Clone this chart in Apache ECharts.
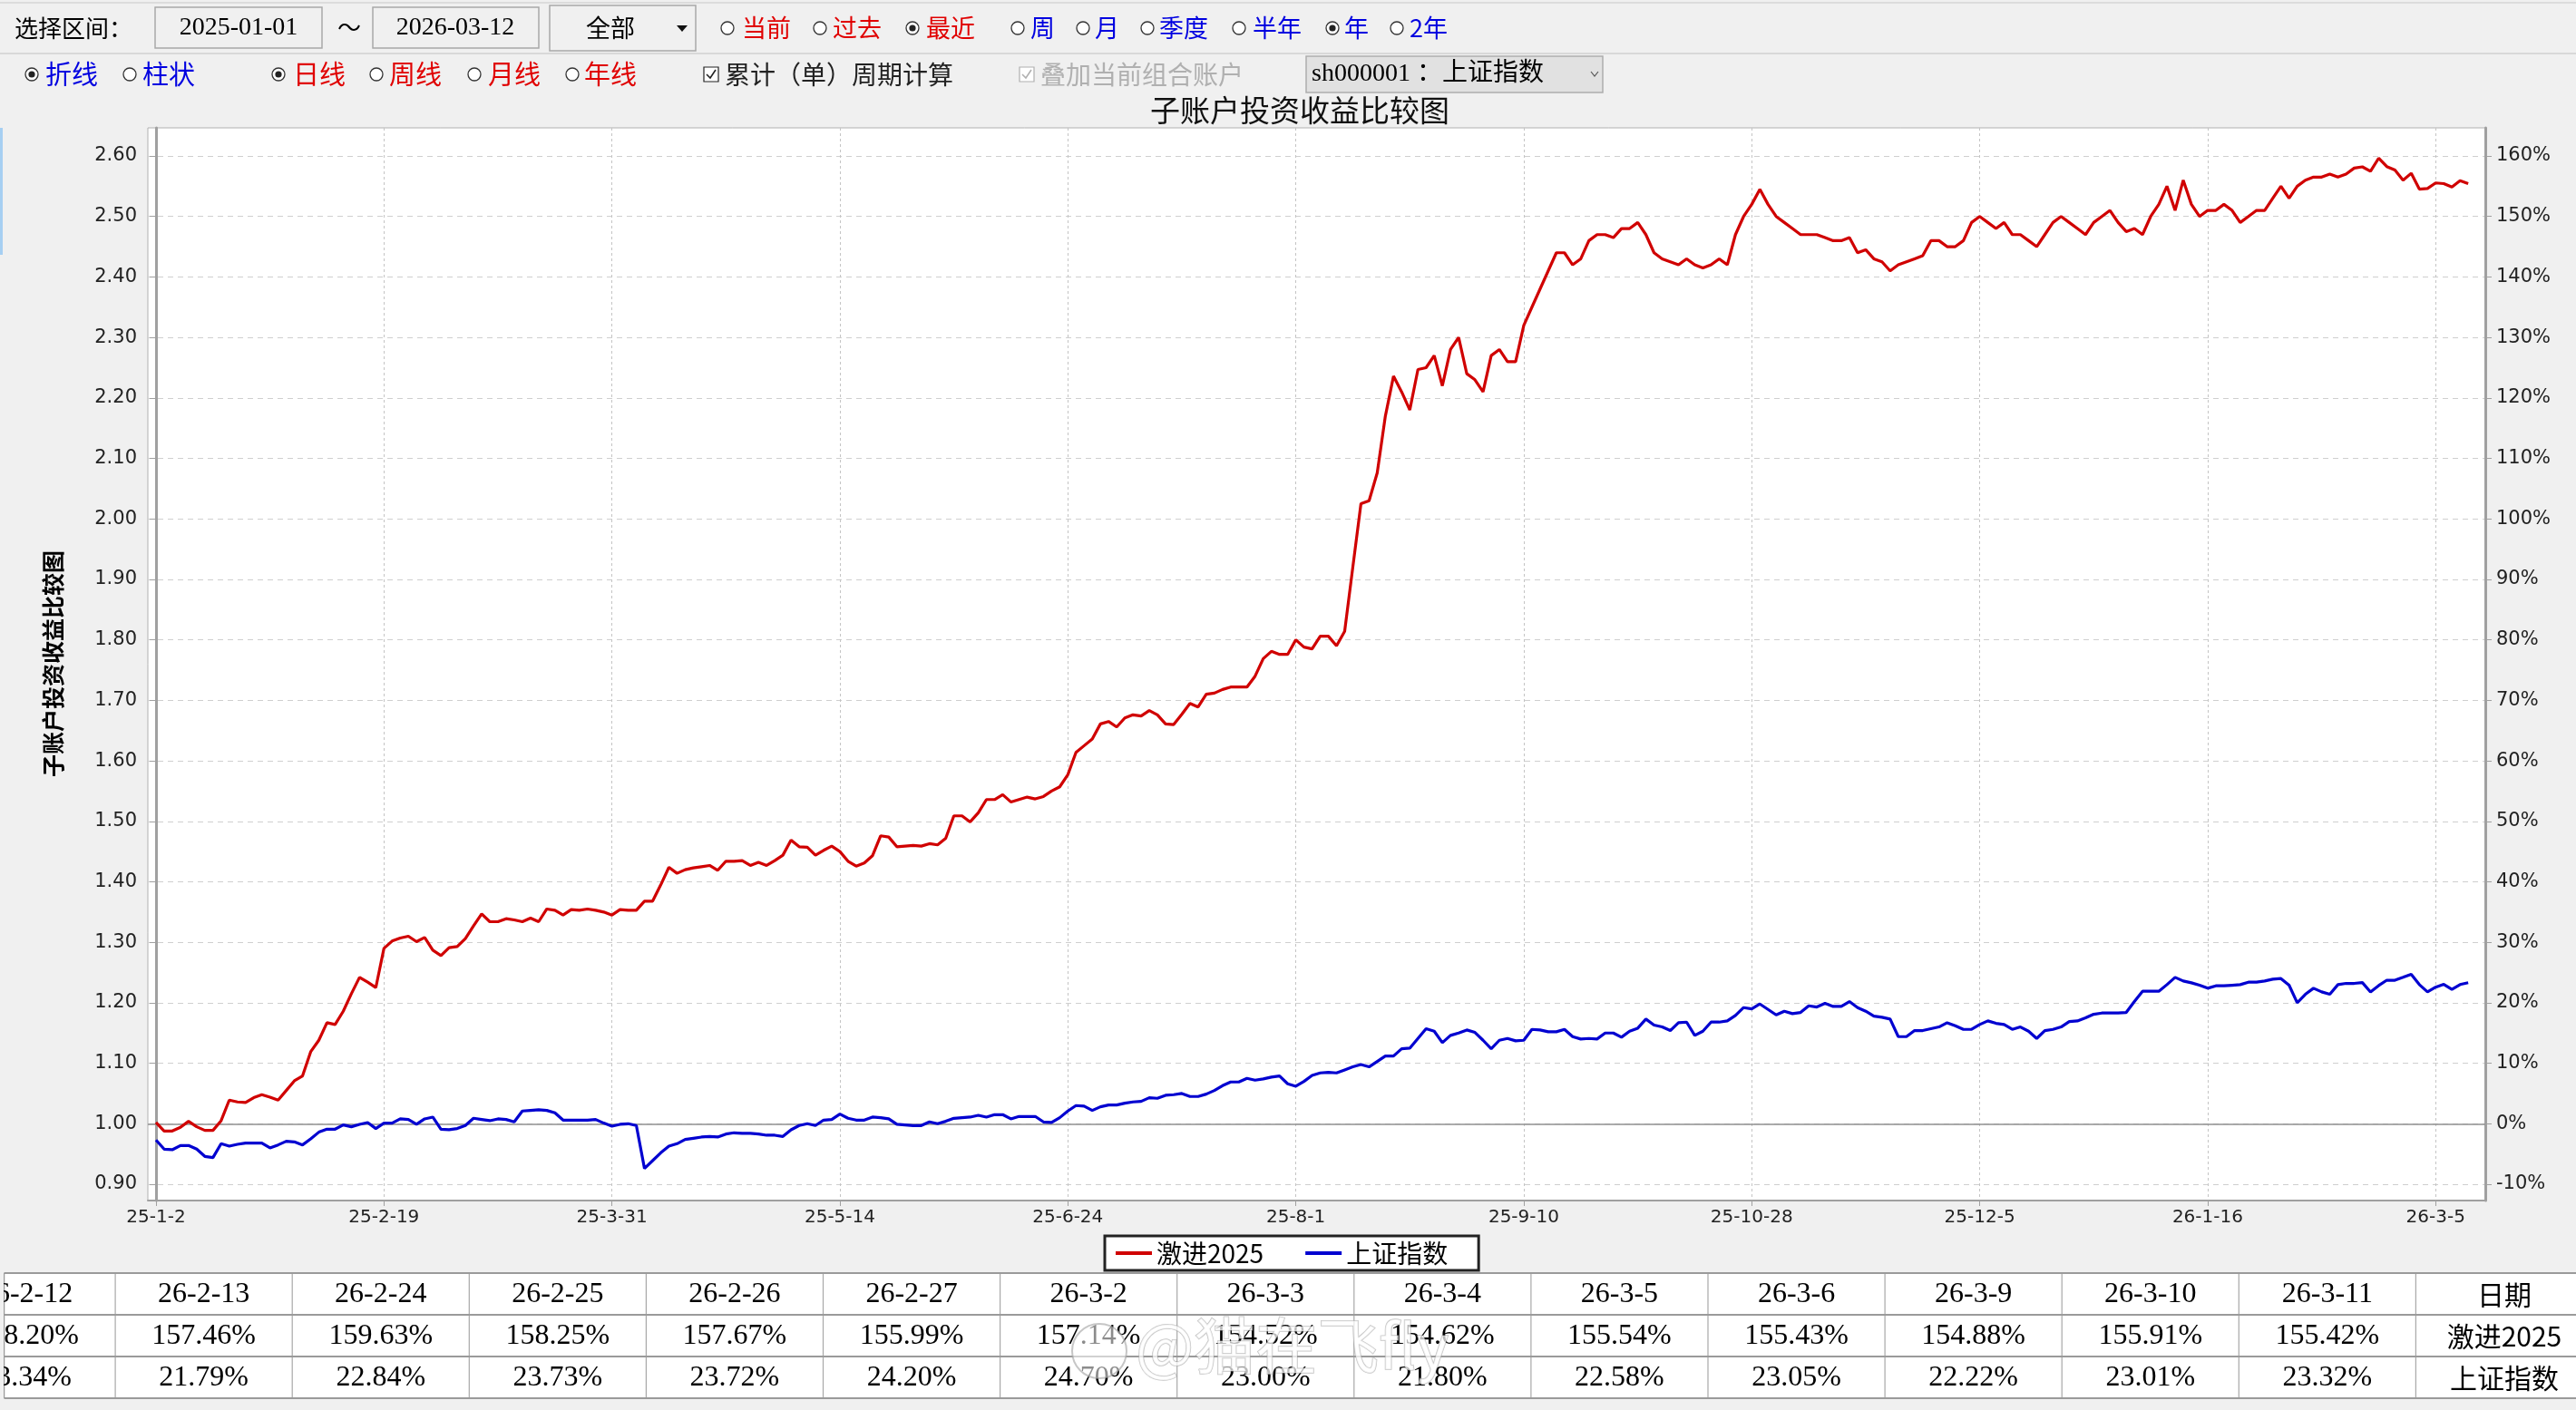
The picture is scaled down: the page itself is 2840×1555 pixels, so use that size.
<!DOCTYPE html>
<html><head><meta charset="utf-8">
<script src="https://cdn.jsdelivr.net/npm/echarts@6/dist/echarts.min.js"></script>
<style>html,body{margin:0;padding:0;background:#f0f0f0;}#c{width:2840px;height:1555px;}</style>
</head><body><div id="c"></div>
<script>
// ---------------- data ----------------
const tickLabels = ['25-1-2','25-2-19','25-3-31','25-5-14','25-6-24','25-8-1','25-9-10','25-10-28','25-12-5','26-1-16','26-3-5'];
const tickStep = 28; // trading days between labelled ticks
const seriesNames = ['激进2025','上证指数'];
const aggressive = [
1.002,0.988,0.988,0.994,1.004,0.995,0.989,0.989,1.005,1.039,
1.036,1.035,1.043,1.048,1.044,1.039,1.055,1.071,1.079,1.119,
1.138,1.167,1.164,1.186,1.215,1.242,1.234,1.225,1.290,1.302,
1.307,1.310,1.301,1.308,1.287,1.278,1.291,1.293,1.306,1.327,
1.347,1.334,1.334,1.339,1.337,1.334,1.340,1.334,1.355,1.353,
1.345,1.354,1.353,1.355,1.353,1.350,1.345,1.354,1.353,1.353,
1.368,1.368,1.395,1.424,1.414,1.420,1.423,1.425,1.427,1.419,
1.434,1.434,1.435,1.427,1.432,1.427,1.435,1.444,1.469,1.458,
1.457,1.444,1.452,1.459,1.450,1.434,1.426,1.431,1.443,1.476,
1.474,1.458,1.459,1.460,1.459,1.463,1.461,1.472,1.509,1.509,
1.499,1.514,1.536,1.536,1.544,1.532,1.536,1.540,1.537,1.541,
1.550,1.557,1.577,1.614,1.625,1.636,1.661,1.665,1.656,1.671,
1.676,1.674,1.683,1.676,1.661,1.660,1.677,1.695,1.689,1.710,
1.712,1.718,1.722,1.722,1.722,1.740,1.769,1.781,1.776,1.776,
1.800,1.788,1.785,1.806,1.806,1.790,1.814,1.920,2.025,2.030,
2.076,2.170,2.236,2.210,2.180,2.247,2.250,2.270,2.220,2.280,
2.300,2.240,2.230,2.210,2.270,2.280,2.260,2.260,2.320,2.350,
2.380,2.410,2.440,2.440,2.420,2.430,2.460,2.470,2.470,2.465,
2.480,2.480,2.490,2.470,2.440,2.430,2.425,2.420,2.430,2.420,
2.415,2.420,2.430,2.420,2.470,2.500,2.520,2.545,2.520,2.500,
2.490,2.480,2.470,2.470,2.470,2.465,2.460,2.460,2.465,2.440,
2.445,2.430,2.425,2.410,2.420,2.425,2.430,2.435,2.460,2.460,
2.450,2.450,2.460,2.490,2.500,2.490,2.480,2.490,2.470,2.470,
2.460,2.450,2.470,2.490,2.500,2.490,2.480,2.470,2.490,2.500,
2.510,2.490,2.475,2.480,2.470,2.500,2.520,2.550,2.510,2.560,
2.520,2.500,2.510,2.510,2.520,2.510,2.490,2.500,2.510,2.510,
2.530,2.550,2.530,2.550,2.560,2.565,2.565,2.570,2.565,2.570,
2.580,2.5820,2.5746,2.5963,2.5825,2.5767,2.5599,2.5714,2.5452,2.5462,
2.5554,2.5543,2.5488,2.5591,2.5542
];
const shIndex = [
0.973,0.958,0.957,0.964,0.964,0.958,0.946,0.944,0.967,0.963,
0.966,0.968,0.968,0.968,0.960,0.965,0.971,0.970,0.965,0.975,
0.986,0.991,0.991,0.998,0.995,0.999,1.002,0.992,1.001,1.001,
1.008,1.007,0.999,1.008,1.011,0.991,0.990,0.992,0.997,1.009,
1.007,1.005,1.008,1.007,1.003,1.021,1.022,1.023,1.022,1.018,
1.006,1.006,1.006,1.006,1.007,1.001,0.996,0.999,1.000,0.997,
0.926,0.939,0.952,0.963,0.967,0.974,0.976,0.978,0.979,0.978,
0.983,0.985,0.984,0.984,0.983,0.981,0.981,0.979,0.990,0.997,
1.000,0.997,1.006,1.007,1.016,1.009,1.006,1.006,1.011,1.010,
1.008,0.999,0.998,0.997,0.997,1.003,1.000,1.004,1.009,1.010,
1.011,1.014,1.011,1.015,1.015,1.008,1.012,1.012,1.012,1.003,
1.002,1.010,1.021,1.030,1.029,1.022,1.028,1.031,1.031,1.034,
1.036,1.037,1.043,1.042,1.047,1.048,1.050,1.045,1.045,1.049,
1.055,1.063,1.069,1.069,1.075,1.072,1.074,1.077,1.079,1.066,
1.062,1.070,1.080,1.084,1.085,1.084,1.089,1.094,1.098,1.094,
1.103,1.112,1.112,1.124,1.125,1.141,1.157,1.153,1.134,1.146,
1.150,1.155,1.151,1.138,1.124,1.138,1.141,1.137,1.138,1.156,
1.155,1.152,1.152,1.156,1.144,1.140,1.141,1.140,1.150,1.150,
1.143,1.153,1.158,1.173,1.163,1.160,1.154,1.167,1.168,1.146,
1.153,1.168,1.168,1.170,1.179,1.192,1.190,1.198,1.189,1.180,
1.186,1.182,1.184,1.195,1.193,1.199,1.194,1.194,1.202,1.192,
1.186,1.178,1.176,1.173,1.144,1.144,1.154,1.154,1.157,1.160,
1.167,1.162,1.156,1.156,1.164,1.170,1.166,1.164,1.156,1.160,
1.153,1.141,1.154,1.156,1.160,1.169,1.170,1.175,1.181,1.183,
1.183,1.183,1.184,1.202,1.219,1.219,1.219,1.230,1.242,1.236,
1.233,1.229,1.224,1.228,1.228,1.229,1.230,1.234,1.234,1.236,
1.239,1.240,1.229,1.200,1.214,1.224,1.218,1.214,1.230,1.232,
1.232,1.2334,1.2179,1.2284,1.2373,1.2372,1.2420,1.2470,1.2300,1.2180,
1.2258,1.2305,1.2222,1.2301,1.2332
];
const yLeftTicks = [0.90,1.00,1.10,1.20,1.30,1.40,1.50,1.60,1.70,1.80,1.90,2.00,2.10,2.20,2.30,2.40,2.50,2.60];
const yRightTicks = [-10,0,10,20,30,40,50,60,70,80,90,100,110,120,130,140,150,160];
const tableDates = ['26-2-12','26-2-13','26-2-24','26-2-25','26-2-26','26-2-27','26-3-2','26-3-3','26-3-4','26-3-5','26-3-6','26-3-9','26-3-10','26-3-11'];
const tableAggressive = ['158.20%','157.46%','159.63%','158.25%','157.67%','155.99%','157.14%','154.52%','154.62%','155.54%','155.43%','154.88%','155.91%','155.42%'];
const tableIndex = ['23.34%','21.79%','22.84%','23.73%','23.72%','24.20%','24.70%','23.00%','21.80%','22.58%','23.05%','22.22%','23.01%','23.32%'];
const tableRowNames = ['日期','激进2025','上证指数'];

// ---------------- drawing ----------------
const CJK = '"Noto Sans CJK SC", sans-serif';
const SERIF = '"Liberation Serif", "Noto Sans CJK SC", serif';
const NUM = '"DejaVu Sans", sans-serif';
const RED = '#e00000', BLUE = '#0000e0';

const G = [];
function T(x, y, s, size, fill, fam, align, weight) {
  G.push({type:'text', x:x, y:y, silent:true, z:10,
    style:{text:s, fill:fill || '#000', fontSize:size, fontFamily:fam || CJK, fontWeight:weight || 'normal', align:align || 'left', verticalAlign:'middle'}});
}
function R(x, y, w, h, fill, stroke, lw, z) {
  G.push({type:'rect', silent:true, z:z||5, shape:{x:x, y:y, width:w, height:h},
    style:{fill:fill, stroke:stroke || null, lineWidth:lw || 1}});
}
function L(x1, y1, x2, y2, stroke, lw, z) {
  G.push({type:'line', silent:true, z:z||6, shape:{x1:x1, y1:y1, x2:x2, y2:y2}, style:{stroke:stroke, lineWidth:lw||1}});
}
function radio(cx, cy, checked, label, color, tx, size) {
  G.push({type:'circle', silent:true, z:8, shape:{cx:cx, cy:cy, r:7}, style:{fill:'#fff', stroke:'#333', lineWidth:1.3}});
  if (checked) G.push({type:'circle', silent:true, z:9, shape:{cx:cx, cy:cy, r:3.6}, style:{fill:'#222'}});
  T(tx, cy, label, size, color);
}
function checkbox(x, cy, color, label, tx, size) {
  R(x, cy - 8, 16, 16, '#fff', color, 1.2, 8);
  G.push({type:'polyline', silent:true, z:9, shape:{points:[[x+3, cy], [x+7, cy+4], [x+13, cy-5]]}, style:{stroke:color, lineWidth:1.6, fill:null}});
  T(tx, cy, label, size, color);
}

// toolbar lines
L(0, 3, 2840, 3, '#c8c8c8', 1);
L(0, 59, 2840, 59, '#d0d0d0', 1.5);
// row 1
T(16, 31, '选择区间：', 26, '#000');
R(171, 8, 184, 45, '#f0f0f0', '#a8a8a8', 1.5);
T(263, 31, '2025-01-01', 28, '#000', SERIF, 'center');
T(385, 30, '～', 26, '#000', CJK, 'center');
R(411, 8, 183, 45, '#f0f0f0', '#a8a8a8', 1.5);
T(502, 31, '2026-03-12', 28, '#000', SERIF, 'center');
R(606, 6, 161, 50, '#f0f0f0', '#a8a8a8', 1.5);
T(673, 31, '全部', 27, '#000', CJK, 'center');
G.push({type:'polygon', silent:true, z:8, shape:{points:[[746,28],[758,28],[752,35]]}, style:{fill:'#111'}});
radio(802, 31, false, '当前', RED, 818, 27);
radio(904, 31, false, '过去', RED, 918, 27);
radio(1006, 31, true, '最近', RED, 1021, 27);
radio(1122, 31, false, '周', BLUE, 1136, 27);
radio(1194, 31, false, '月', BLUE, 1207, 27);
radio(1265, 31, false, '季度', BLUE, 1278, 27);
radio(1366, 31, false, '半年', BLUE, 1381, 27);
radio(1469, 31, true, '年', BLUE, 1482, 27);
radio(1540, 31, false, '2年', BLUE, 1554, 27);
// row 2
radio(35, 82, true, '折线', BLUE, 50, 29);
radio(143, 82, false, '柱状', BLUE, 157, 29);
radio(307, 82, true, '日线', RED, 323, 29);
radio(415, 82, false, '周线', RED, 429, 29);
radio(523, 82, false, '月线', RED, 538, 29);
radio(631, 82, false, '年线', RED, 644, 29);
checkbox(776, 82, '#222', '累计（单）周期计算', 799, 28);
checkbox(1124, 82, '#b0b0b0', '叠加当前组合账户', 1147, 28);
R(1440, 62, 327, 40, '#e1e1e1', '#adadad', 1.5);
T(1446, 82, 'sh000001 ：上证指数', 28, '#000', SERIF);
G.push({type:'polyline', silent:true, z:9, shape:{points:[[1754,79],[1758,84],[1762,79]]}, style:{stroke:'#555', lineWidth:1.2, fill:null}});
// chart title
T(1433, 121, '子账户投资收益比较图', 33, '#111', CJK, 'center');
// left scroll indicator
R(0, 141, 3, 140, '#a6cff2', null, 1, 5);
// vertical axis name
G.push({type:'text', x:58, y:732, rotation:Math.PI/2, silent:true, z:10,
  style:{text:'子账户投资收益比较图', fill:'#000', fontSize:25, fontFamily:CJK, fontWeight:'bold', align:'center', verticalAlign:'middle'}});

// table
const tTop = 1404, rowH = 46, colW = 195.1, col0 = -68;
R(4.5, tTop, 2840, rowH * 3, '#fff', null, 1, 4);
for (let j = 1; j <= tableDates.length; j++) L(col0 + colW * j, tTop, col0 + colW * j, tTop + rowH * 3, '#a8a8a8', 1.2);
for (let r = 0; r <= 3; r++) L(4.5, tTop + rowH * r, 2840, tTop + rowH * r, '#9a9a9a', 2);
L(4.5, tTop, 4.5, tTop + rowH * 3, '#9a9a9a', 1.5);
const rowsData = [tableDates, tableAggressive, tableIndex];
rowsData.forEach((row, r) => {
  row.forEach((s, j) => T(col0 + colW * j + colW / 2, tTop + rowH * r + rowH / 2 + 1, s, 32, '#000', SERIF, 'center'));
  T(col0 + colW * row.length + colW / 2, tTop + rowH * r + rowH / 2 + 1, tableRowNames[r], 30, '#000', CJK, 'center');
});
R(0, tTop - 2, 4, rowH * 3 + 4, '#f0f0f0', null, 1, 12);
// watermark
G.push({type:'circle', silent:true, z:20, shape:{cx:1212, cy:1490, r:30}, style:{fill:'rgba(255,255,255,0.55)', stroke:'rgba(160,160,160,0.6)', lineWidth:2}});
G.push({type:'text', x:1252, y:1484, silent:true, z:20,
  style:{text:'@猫在飞fly', fill:'rgba(255,255,255,0.72)', stroke:'rgba(150,150,150,0.55)', lineWidth:1.5, fontSize:68, fontFamily:CJK, align:'left', verticalAlign:'middle'}});

const pxTop = 141, pxBottom = 1324;  // plot box
const yMin = 0.873, yMax = 2.6465;

const chart = echarts.init(document.getElementById('c'), null, {renderer:'canvas'});
chart.setOption({
  animation: false,
  backgroundColor: '#f0f0f0',
  graphic: {elements: G},
  grid: {left:163, right:100, top:pxTop, bottom:1555 - pxBottom, show:true, backgroundColor:'#fff', borderColor:'#b0b0b0', borderWidth:1},
  legend: {
    data: seriesNames, left:1218, top:1363, orient:'horizontal',
    backgroundColor:'#fff', borderColor:'#222', borderWidth:3, borderRadius:0,
    padding:[4, 34, 4, 12], itemGap:46, itemWidth:40, itemHeight:4, icon:'rect',
    textStyle:{fontSize:28, fontFamily:CJK, color:'#000', lineHeight:30}
  },
  xAxis: {
    type:'value', min:-1, max:286.1,
    axisLine:{show:true, onZero:false, lineStyle:{color:'#a0a0a0', width:2}},
    axisTick:{show:true, length:6, customValues: tickLabels.map((_, k) => k * tickStep), lineStyle:{color:'#a0a0a0'}},
    axisLabel:{customValues: tickLabels.map((_, k) => k * tickStep), formatter: v => tickLabels[Math.round(v / tickStep)],
      fontSize:20, fontFamily:NUM, color:'#222', margin:9},
    splitLine:{show:true, lineStyle:{type:[3,3], color:'#c4c4c4', width:1}}
  },
  yAxis: [{
    type:'value', min:yMin, max:yMax, position:'left',
    axisLine:{show:true, lineStyle:{color:'#a0a0a0', width:3}},
    axisTick:{show:true, length:7, customValues:yLeftTicks, lineStyle:{color:'#a0a0a0'}},
    axisLabel:{customValues:yLeftTicks, formatter: v => v.toFixed(2), fontSize:21, fontFamily:NUM, color:'#222', margin:12},
    splitLine:{show:true, lineStyle:{type:[6,5], color:'#cfcfcf', width:1}}
  }, {
    type:'value', min:(yMin - 1) * 100, max:(yMax - 1) * 100, position:'right',
    axisLine:{show:true, lineStyle:{color:'#a0a0a0', width:3}},
    axisTick:{show:true, length:7, customValues:yRightTicks, lineStyle:{color:'#a0a0a0'}},
    axisLabel:{customValues:yRightTicks, formatter: v => Math.round(v) + '%', fontSize:21, fontFamily:NUM, color:'#222', margin:12},
    splitLine:{show:false}
  }],
  series: [{
    name: seriesNames[0], type:'line', data: aggressive.map((v, i) => [i, v]),
    symbol:'none', lineStyle:{color:'#d00000', width:3.2}, itemStyle:{color:'#d00000'}, z:5
  }, {
    name: seriesNames[1], type:'line', data: shIndex.map((v, i) => [i, v]),
    symbol:'none', lineStyle:{color:'#0000d0', width:3.2}, itemStyle:{color:'#0000d0'}, z:4,
    markLine:{silent:true, symbol:'none', label:{show:false}, lineStyle:{type:'solid', color:'#909090', width:1.5},
      data:[{yAxis:1}], z:1}
  }]
});
</script></body></html>
